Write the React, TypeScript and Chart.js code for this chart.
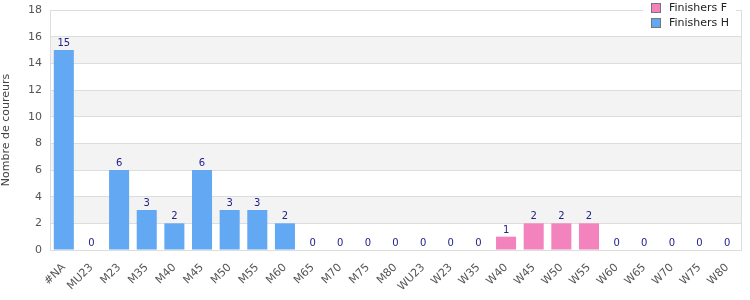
import React, { useEffect, useRef } from "react";
import { Chart, registerables } from "chart.js";

Chart.register(...registerables);

const categories = ["#NA","MU23","M23","M35","M40","M45","M50","M55","M60","M65","M70","M75","M80","WU23","W23","W35","W40","W45","W50","W55","W60","W65","W70","W75","W80"];
const finishersF = [0,0,0,0,0,0,0,0,0,0,0,0,0,0,0,0,1,2,2,2,0,0,0,0,0];
const finishersH = [15,0,6,3,2,6,3,3,2,0,0,0,0,0,0,0,0,0,0,0,0,0,0,0,0];
const yTicks = [0,2,4,6,8,10,12,14,16,18];

const FONT = "'DejaVu Sans', sans-serif";
const PINK = "#f383bc";
const BLUE = "#62a8f3";

const bandsPlugin = {
  id: "bands",
  beforeDraw(chart: any) {
    const { ctx, chartArea, scales } = chart;
    const y = scales.y;
    ctx.save();
    ctx.fillStyle = "#f3f3f3";
    for (let v = 2; v < 18; v += 4) {
      const top = y.getPixelForValue(v + 2);
      const bot = y.getPixelForValue(v);
      ctx.fillRect(chartArea.left, top, chartArea.right - chartArea.left, bot - top);
    }
    ctx.restore();
  },
  afterDatasetsDraw(chart: any) {
    const { ctx, chartArea, scales } = chart;
    ctx.save();
    ctx.strokeStyle = "#dddddd";
    ctx.lineWidth = 1;
    ctx.beginPath();
    ctx.moveTo(Math.round(chartArea.right) + 0.5, chartArea.top);
    ctx.lineTo(Math.round(chartArea.right) + 0.5, chartArea.bottom);
    ctx.stroke();
    // value labels
    ctx.fillStyle = "#22228a";
    ctx.font = `10px ${FONT}`;
    ctx.textAlign = "center";
    ctx.textBaseline = "alphabetic";
    categories.forEach((_, i) => {
      const total = finishersF[i] + finishersH[i];
      const x = scales.x.getPixelForValue(i);
      const yy = scales.y.getPixelForValue(total);
      ctx.fillText(String(total), x, yy - 4);
    });
    // legend
    const lx = 643, lw = 93;
    ctx.fillStyle = "#ffffff";
    ctx.fillRect(lx, 0, lw, 33);
    const items = [["Finishers F", PINK, 8], ["Finishers H", BLUE, 23]] as const;
    ctx.textAlign = "left";
    ctx.textBaseline = "middle";
    ctx.font = `11px ${FONT}`;
    items.forEach(([label, color, cy]) => {
      ctx.fillStyle = color;
      ctx.fillRect(652, cy - 4, 8, 8);
      ctx.strokeStyle = "#777777";
      ctx.strokeRect(651.5, cy - 4.5, 9, 9);
      ctx.fillStyle = "#222222";
      ctx.fillText(label, 669, cy);
    });
    ctx.restore();
  },
};

export default function App() {
  const ref = useRef<HTMLCanvasElement>(null);
  useEffect(() => {
    const chart = new Chart(ref.current!, {
      type: "bar",
      data: {
        labels: categories,
        datasets: [
          { label: "Finishers F", data: finishersF, backgroundColor: PINK, barPercentage: 0.725, categoryPercentage: 1 },
          { label: "Finishers H", data: finishersH, backgroundColor: BLUE, barPercentage: 0.725, categoryPercentage: 1 },
        ],
      },
      options: {
        animation: false,
        responsive: false,
        maintainAspectRatio: false,
        layout: { padding: { top: 10, right: 9, left: 0, bottom: 0 } },
        plugins: { legend: { display: false }, tooltip: { enabled: false } },
        scales: {
          x: {
            stacked: true,
            grid: { display: false },
            border: { color: "#dddddd" },
            ticks: { color: "#555555", font: { family: FONT, size: 11 }, maxRotation: 45, minRotation: 45, autoSkip: false, padding: 3 },
            afterFit(scale: any) { scale.height = 50; scale.paddingLeft = 0; scale.paddingRight = 0; },
          },
          y: {
            stacked: true,
            min: 0,
            max: 18,
            afterBuildTicks(scale: any) { scale.ticks = yTicks.map((v) => ({ value: v })); },
            grid: { color: "#dddddd", drawTicks: false },
            border: { color: "#dddddd" },
            ticks: { color: "#555555", font: { family: FONT, size: 11 }, padding: 8 },
            title: { display: true, text: "Nombre de coureurs", color: "#444444", font: { family: FONT, size: 11 }, padding: 0 },
            afterFit(scale: any) { scale.width = 50; scale.paddingTop = 0; scale.paddingBottom = 0; },
          },
        },
      },
      plugins: [bandsPlugin],
    });
    return () => chart.destroy();
  }, []);
  return (
    <div style={{ position: "absolute", left: 0, top: 0, width: 750, height: 300 }}>
      <canvas ref={ref} width={750} height={300} style={{ width: 750, height: 300 }} />
    </div>
  );
}
